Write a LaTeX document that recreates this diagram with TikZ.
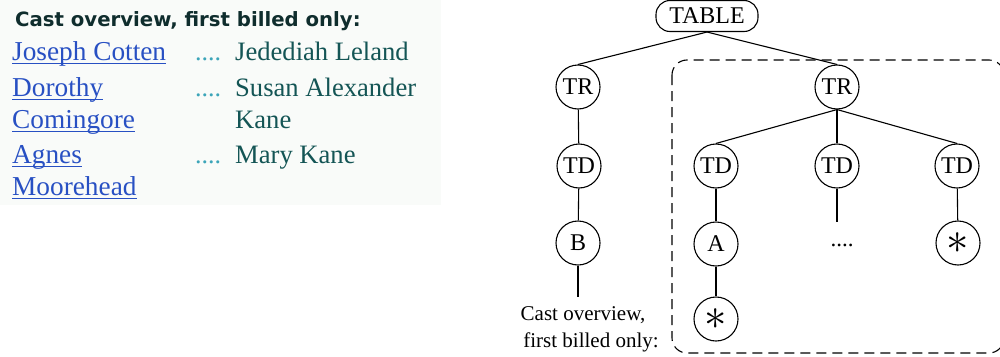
\documentclass[tikz,border=0pt]{standalone}
\usepackage{fontspec}
\setmainfont{Liberation Serif}
\newfontfamily\headfont{DejaVu Sans}
\definecolor{panelbg}{RGB}{249,251,249}
\definecolor{headdark}{RGB}{15,45,45}
\definecolor{linkblue}{RGB}{40,80,195}
\definecolor{roleteal}{RGB}{20,85,85}
\definecolor{dotcyan}{RGB}{60,165,185}
\newcommand{\bigstar}{\raisebox{-0.5pt}{\scalebox{1.8}{$*$}}}
\begin{document}
\begin{tikzpicture}[x=1pt,y=-1pt,
  treenode/.style={circle,draw,line width=1.1pt,minimum size=44pt,inner sep=0pt,font=\fontsize{24}{28}\selectfont},
  tablenode/.style={draw,line width=1.1pt,rounded corners=14pt,minimum width=102pt,minimum height=31pt,inner sep=0pt,font=\fontsize{24}{28}\selectfont},
  edge/.style={line width=1.1pt},
  link/.style={anchor=base west,inner sep=0pt,text=linkblue,font=\fontsize{27.3}{30}\selectfont},
  role/.style={anchor=base west,inner sep=0pt,text=roleteal,font=\fontsize{26.6}{30}\selectfont},
  dotsty/.style={anchor=base west,inner sep=0pt,text=dotcyan,font=\fontsize{26}{30}\selectfont},
  uline/.style={linkblue,line width=1.5pt},
  lbl/.style={anchor=base,inner sep=0pt,font=\fontsize{21}{27}\selectfont}]
\useasboundingbox (0,0) rectangle (1000,356);
\begin{scope}
\clip (0,0) rectangle (1000,356);
% left panel
\fill[panelbg] (0,0) rectangle (441,205);
\node[anchor=base west,inner sep=0pt,text=headdark,font=\headfont\bfseries\fontsize{19.7}{23}\selectfont] (head) at (15,27) {Cast overview, first billed only:};
\node[link] (l1) at (12,60) {Joseph Cotten};
\node[link] (l2) at (12,96) {Dorothy};
\node[link] (l3) at (12,128) {Comingore};
\node[link] (l4) at (12,163) {Agnes};
\node[link] (l5) at (12,195) {Moorehead};
\foreach \n in {l1,l2,l3,l4,l5}{
  \draw[uline] ([yshift=-3.5pt]\n.base west) -- ([yshift=-3.5pt]\n.base east);
}
\node[dotsty] (d1) at (195,60) {....};
\node[dotsty] (d2) at (195,96) {....};
\node[dotsty] (d4) at (195,163) {....};
\node[role] (r1) at (235,60) {Jedediah Leland};
\node[role] (r2) at (235,96) {Susan Alexander};
\node[role] (r3) at (235,128) {Kane};
\node[role] (r4) at (235,163) {Mary Kane};
% tree
\draw[line width=1.1pt,dash pattern=on 10pt off 6pt,rounded corners=15pt] (672,60) rectangle (1004,353);
\node[tablenode] (table) at (707,16) {TABLE};
\node[treenode] (tr1) at (578,87) {TR};
\node[treenode] (tr2) at (837,87) {TR};
\node[treenode] (td1) at (579,166) {TD};
\node[treenode] (td2) at (716,166) {TD};
\node[treenode] (td3) at (837,166) {TD};
\node[treenode] (td4) at (957,166) {TD};
\node[treenode] (b) at (578,243) {B};
\node[treenode] (a) at (716,244) {A};
\node[inner sep=0pt,font=\fontsize{23}{27}\selectfont] (dd) at (842,245) {....};
\node[treenode] (s1) at (958,243) {\bigstar};
\node[treenode] (s2) at (716,319) {\bigstar};
\coordinate (td3end) at (837,222);
\coordinate (bend) at (578,297);
\draw[edge] (table.south) -- (tr1.north);
\draw[edge] (table.south) -- (tr2.north);
\draw[edge] (tr1) -- (td1);
\draw[edge] (td1) -- (b);
\draw[edge] (b.south) -- (bend);
\draw[edge] (tr2.south) -- (td2.north);
\draw[edge] (tr2.south) -- (td3.north);
\draw[edge] (tr2.south) -- (td4.north);
\draw[edge] (td2) -- (a);
\draw[edge] (a) -- (s2);
\draw[edge] (td3.south) -- (td3end);
\draw[edge] (td4) -- (s1);
\node[lbl] (cap1) at (583,320) {Cast overview,};
\node[lbl] (cap2) at (591,347) {first billed only:};
\end{scope}
\end{tikzpicture}
\end{document}
